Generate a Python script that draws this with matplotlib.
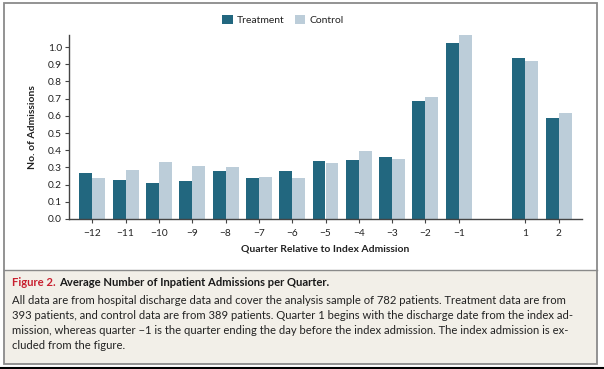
import matplotlib
matplotlib.use("Agg")
import matplotlib.pyplot as plt
from matplotlib.patches import Rectangle
import numpy as np

quarters = ["\u221212", "\u221211", "\u221210", "\u22129", "\u22128", "\u22127", "\u22126",
            "\u22125", "\u22124", "\u22123", "\u22122", "\u22121", "1", "2"]
treatment = [0.266, 0.226, 0.208, 0.220, 0.278, 0.237, 0.278, 0.336, 0.342, 0.359,
             0.688, 1.025, 0.937, 0.587]
control = [0.237, 0.284, 0.330, 0.307, 0.301, 0.243, 0.237, 0.324, 0.394, 0.347,
           0.710, 1.071, 0.919, 0.619]
yticks = [0.0, 0.1, 0.2, 0.3, 0.4, 0.5, 0.6, 0.7, 0.8, 0.9, 1.0]

plt.rcParams["font.family"] = ["Lato", "DejaVu Sans"]

W, H = 604, 369
fig = plt.figure(figsize=(W / 100, H / 100), dpi=100)


def fx(px):
    return px / W


def fy(py):
    return 1 - py / H


# frame, caption box
fig.patches.append(Rectangle((fx(4), fy(364)), fx(593), 94 / H, transform=fig.transFigure,
                             facecolor="#f2efe8", edgecolor="none", zorder=0))
fig.patches.append(Rectangle((fx(4), fy(364)), fx(593), 361 / H, transform=fig.transFigure,
                             facecolor="none", edgecolor="#8a8a8a", linewidth=1.3, zorder=1))
fig.add_artist(plt.Line2D([fx(4), fx(597)], [fy(270), fy(270)], transform=fig.transFigure,
                          color="#8a8a8a", linewidth=1.0))
fig.add_artist(plt.Line2D([0, 1], [fy(367.5), fy(367.5)], transform=fig.transFigure,
                          color="black", linewidth=1.5))

ax = fig.add_axes([fx(69), fy(219), fx(582 - 69), 184 / H])
x = np.array(list(range(12)) + [13, 14])
w = 0.39
ax.bar(x - w / 2, treatment, w, color="#22677f", label="Treatment")
ax.bar(x + w / 2, control, w, color="#bccdd9", label="Control")

ax.set_xlim(-0.7, 14.7)
ax.set_ylim(0, 1.07)
ax.set_xticks(x)
ax.set_xticklabels(quarters)
ax.set_yticks(yticks)
ax.set_yticklabels([f"{v:.1f}" for v in yticks])
for s in ["top", "right"]:
    ax.spines[s].set_visible(False)
for s in ["left", "bottom"]:
    ax.spines[s].set_color("#444444")
    ax.spines[s].set_linewidth(1.0)
ax.tick_params(axis="both", direction="out", length=3, width=0.8, color="#444444",
               labelsize=7.3, labelcolor="#222222", pad=2)
ax.tick_params(axis="x", pad=4)
ax.set_xlabel("Quarter Relative to Index Admission", fontsize=7.5, fontweight="bold",
              color="#222222", labelpad=5)
ax.set_ylabel("No. of Admissions", fontsize=7.5, fontweight="bold", color="#222222",
              labelpad=8)

fig.legend(loc="center", bbox_to_anchor=(fx(283), fy(20)), ncol=2, frameon=False,
           fontsize=7.5, handlelength=1.0, handleheight=1.0, handletextpad=0.4,
           columnspacing=1.0, labelcolor="#222222")

t1 = fig.text(fx(12), fy(286), "Figure 2.", color="#c8202f", fontsize=8.1,
              fontweight="bold", va="baseline", ha="left")
fig.canvas.draw()
bb = t1.get_window_extent()
fig.text((bb.x1 + 3) / W, fy(286), "Average Number of Inpatient Admissions per Quarter.",
         color="#1a1a1a", fontsize=8.1, fontweight="bold", va="baseline", ha="left")

body = [
    "All data are from hospital discharge data and cover the analysis sample of 782 patients. Treatment data are from",
    "393 patients, and control data are from 389 patients. Quarter 1 begins with the discharge date from the index ad-",
    "mission, whereas quarter \u22121 is the quarter ending the day before the index admission. The index admission is ex-",
    "cluded from the figure.",
]
for i, line in enumerate(body):
    fig.text(fx(12), fy(304 + i * 15), line, color="#222222", fontsize=8.15,
             va="baseline", ha="left")

fig.savefig("out.png", dpi=100)
